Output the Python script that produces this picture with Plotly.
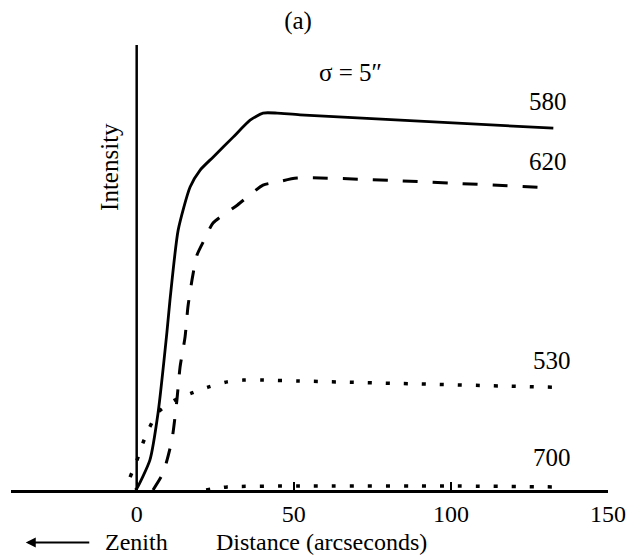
import plotly.graph_objects as go

# Data (x: arcseconds, y: relative intensity 0-100)
x580 = [-0.5, 0.0, 4.2, 6.8, 9.6, 10.6, 13.2, 17.0, 20.2, 24.3, 30.7, 36.1, 40.2, 44.7, 52.0, 132.6]
y580 = [0.0, 0.3, 6.7, 17.3, 35.3, 42.7, 58.4, 68.1, 71.9, 74.8, 79.3, 83.1, 84.7, 84.7, 84.3, 81.3]

x620 = [5.2, 8.4, 11.2, 12.8, 13.8, 15.4, 16.3, 17.6, 19.2, 21.8, 24.3, 32.0, 40.2, 44.7, 51.1, 131.0]
y620 = [0.0, 3.8, 11.2, 20.2, 27.6, 34.4, 41.1, 47.2, 52.8, 56.6, 60.0, 64.0, 68.5, 69.2, 70.1, 67.9]

x530 = [-2.1, 0.1, 2.0, 4.2, 6.8, 12.2, 17.6, 22.7, 28.8, 33.9, 40.2, 51.4, 132.3]
y530 = [2.9, 6.7, 10.6, 14.2, 17.5, 20.2, 21.8, 23.1, 24.3, 24.7, 24.7, 24.5, 23.1]

x700 = [22.1, 28.8, 52.0, 100.0, 132.3]
y700 = [0.0, 0.7, 0.9, 0.9, 0.7]

tick_vals = [0, 50, 100, 150]
tick_text = ["0", "50", "100", "150"]

curve_labels = ["580", "620", "530", "700"]
label_x = [131.0, 131.0, 132.3, 132.3]
label_y = [87.2, 73.9, 29.0, 7.4]

FONT = "Liberation Serif"
FS = 25
FS_BOTTOM = 24

fig = go.Figure()
fig.add_trace(go.Scatter(x=x580, y=y580, mode="lines",
                         line=dict(color="black", width=2.8, shape="spline", smoothing=0.6)))
fig.add_trace(go.Scatter(x=x620, y=y620, mode="lines",
                         line=dict(color="black", width=3, dash="15px,15px", shape="spline", smoothing=0.6)))
fig.add_trace(go.Scatter(x=x530, y=y530, mode="lines",
                         line=dict(color="black", width=3.5, dash="4px,14px", shape="spline", smoothing=0.6)))
fig.add_trace(go.Scatter(x=x700, y=y700, mode="lines",
                         line=dict(color="black", width=3.5, dash="4px,14px", shape="spline", smoothing=0.6)))

# vertical intensity axis at x = 0
fig.add_shape(type="line", xref="x", yref="y", x0=0, x1=0, y0=0, y1=100,
              line=dict(color="black", width=2.5))

for t, lx, ly in zip(curve_labels, label_x, label_y):
    fig.add_annotation(x=lx, y=ly, xref="x", yref="y", text=t, showarrow=False,
                       font=dict(family=FONT, size=FS, color="black"))

fig.add_annotation(x=67.9, y=93.9, xref="x", yref="y", text="σ = 5″", showarrow=False,
                   font=dict(family=FONT, size=FS, color="black"))

fig.add_annotation(x=-8.5, y=72.6, xref="x", yref="y", text="Intensity", showarrow=False,
                   textangle=-90, font=dict(family=FONT, size=FS, color="black"))

# bottom labels (paper y below the plot area)
fig.add_annotation(x=0, y=-0.117, xref="x", yref="paper", text="Zenith", showarrow=False,
                   yanchor="middle", font=dict(family=FONT, size=FS_BOTTOM, color="black"))
fig.add_annotation(x=58.7, y=-0.117, xref="x", yref="paper", text="Distance (arcseconds)",
                   showarrow=False, yanchor="middle",
                   font=dict(family=FONT, size=FS_BOTTOM, color="black"))
fig.add_annotation(x=-35.3, y=-0.118, xref="x", yref="paper", ax=65, ay=0,
                   axref="pixel", ayref="pixel",
                   text="", showarrow=True, arrowhead=2, arrowsize=1, arrowwidth=2,
                   arrowcolor="black")

fig.update_layout(
    width=639, height=557,
    margin=dict(l=11, r=31, t=45, b=67),
    paper_bgcolor="white", plot_bgcolor="white",
    showlegend=False,
    title=dict(text="(a)", x=298/639, xref="container", xanchor="center",
               y=1 - 20/557, yref="container", yanchor="middle",
               font=dict(family=FONT, size=FS, color="black")),
    font=dict(family=FONT, size=FS, color="black"),
)
fig.update_xaxes(range=[-40, 150], tickvals=tick_vals, ticktext=tick_text,
                 showline=True, linecolor="black", linewidth=2.5,
                 ticks="inside", ticklen=8, tickwidth=2, tickcolor="black",
                 showgrid=False, zeroline=False, ticklabelstandoff=0,
                 tickfont=dict(family=FONT, size=FS_BOTTOM, color="black"))
fig.update_yaxes(range=[0, 100], visible=False, showgrid=False, zeroline=False)

fig.write_html("out.html", config={"displayModeBar": False},
               post_script="document.body.style.margin='0';document.body.style.overflow='hidden';")
